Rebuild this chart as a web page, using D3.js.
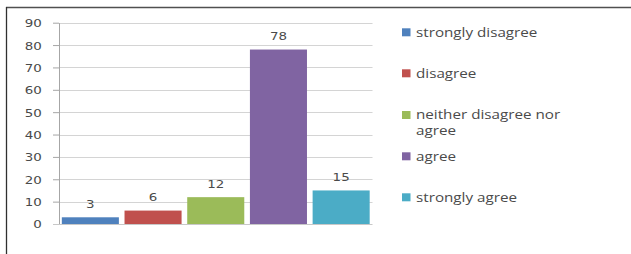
<!DOCTYPE html>
<html><head><meta charset="utf-8">
<script src="https://cdn.jsdelivr.net/npm/d3@7"></script>
<style>body{margin:0;background:#fff}svg{display:block}</style>
</head><body>
<script>
const categories = ["strongly disagree","disagree","neither disagree nor agree","agree","strongly agree"];
const values = [3, 6, 12, 78, 15];
const colors = ["#4F81BD","#C0504D","#9BBB59","#8064A2","#4BACC6"];
const yTicks = [0,10,20,30,40,50,60,70,80,90];
const legendLines = [["strongly disagree"],["disagree"],["neither disagree nor","agree"],["agree"],["strongly agree"]];

const W = 631, H = 254, SX = 1.22;
const svg = d3.select("body").append("svg").attr("width", W).attr("height", H);

// frame
svg.append("line").attr("x1",6).attr("x2",W).attr("y1",7.5).attr("y2",7.5).attr("stroke","#505050").attr("stroke-width",1.5);
svg.append("line").attr("x1",6.5).attr("x2",6.5).attr("y1",7).attr("y2",H).attr("stroke","#303030").attr("stroke-width",1.3);

const x0 = 59, x1 = 372.5, yTop = 22.7, yBot = 224;
const x = d3.scaleBand().domain(categories).range([x0, x1]).paddingInner(0.09).paddingOuter(0.045);
const y = d3.scaleLinear().domain([0, 90]).range([yBot, yTop]);

// gridlines
svg.append("g").selectAll("line").data(yTicks.filter(d=>d>0)).join("line")
  .attr("x1", x0).attr("x2", x1).attr("y1", d=>Math.round(y(d))+0.5).attr("y2", d=>Math.round(y(d))+0.5)
  .attr("stroke","#d4d4d4").attr("stroke-width",1.2);

// y axis
const ax = svg.append("g").attr("transform",`translate(${x0},0)`)
  .call(d3.axisLeft(y).tickValues(yTicks).tickSize(6).tickSizeOuter(0));
ax.select(".domain").attr("stroke","#a6a6a6");
ax.selectAll(".tick line").attr("stroke","#a6a6a6");
ax.selectAll(".tick text").attr("fill","#4a4a4a").attr("x",-14.2).attr("dy","0.36em")
  .attr("transform",`scale(${SX},1)`)
  .style("font-family","DejaVu Sans, Verdana, sans-serif").style("font-size","11px");

// x axis baseline
svg.append("line").attr("x1",x0-6).attr("x2",x1).attr("y1",yBot+0.5).attr("y2",yBot+0.5).attr("stroke","#c8c8c8").attr("stroke-width",1.2);

// bars
svg.append("g").selectAll("rect").data(values).join("rect")
  .attr("x",(d,i)=>x(categories[i])).attr("width",x.bandwidth())
  .attr("y",d=>y(d)).attr("height",d=>yBot-y(d))
  .attr("fill",(d,i)=>colors[i]);

// labels
svg.append("g").selectAll("text").data(values).join("text")
  .attr("transform",(d,i)=>`translate(${x(categories[i])+x.bandwidth()/2},${y(d)-9.5}) scale(${SX},1)`)
  .attr("text-anchor","middle").attr("fill","#4a4a4a")
  .style("font-family","DejaVu Sans, Verdana, sans-serif").style("font-size","11px")
  .text(d=>d);

// legend
const lg = svg.append("g");
const ly = [32.3, 73.3, 115, 156.3, 197.3];
categories.forEach((c,i)=>{
  lg.append("rect").attr("x",402).attr("y",ly[i]-4).attr("width",8.5).attr("height",8).attr("fill",colors[i]);
  legendLines[i].forEach((t,j)=>{
    lg.append("text").attr("transform",`translate(416,${ly[i]+4.4+j*15.5}) scale(${SX*1.04},1)`).attr("fill","#4a4a4a")
      .style("font-family","Open Sans, sans-serif").style("font-size","12px").text(t);
  });
});
</script>
</body></html>
